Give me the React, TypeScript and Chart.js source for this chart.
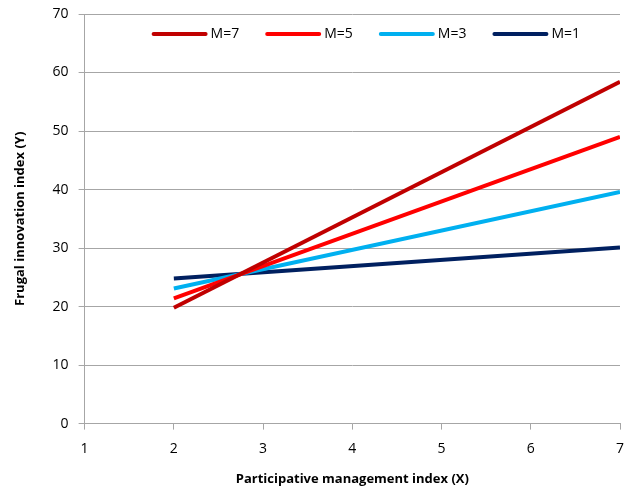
import React, { useEffect, useRef } from "react";
import { Chart, registerables } from "chart.js";

Chart.register(...registerables);

const xValues = [2, 7];
const seriesLabels = ["M=7", "M=5", "M=3", "M=1"];
const seriesColors = ["#C00000", "#FF0000", "#00B0F0", "#002060"];
const seriesValues = [
  [19.8, 58.4],
  [21.4, 49.0],
  [23.1, 39.6],
  [24.8, 30.1],
];
const xTitle = "Participative management index (X)";
const yTitle = "Frugal innovation index (Y)";

const font = "'Open Sans', 'Noto Sans', sans-serif";

const insideLegend = {
  id: "insideLegend",
  afterDraw(chart: any) {
    const { ctx, chartArea } = chart;
    ctx.save();
    ctx.font = `14px ${font}`;
    ctx.textBaseline = "middle";
    ctx.lineCap = "round";
    ctx.lineWidth = 4;
    let x = chartArea.left + 69;
    const y = chartArea.top + 20;
    chart.data.datasets.forEach((ds: any) => {
      ctx.strokeStyle = ds.borderColor;
      ctx.beginPath();
      ctx.moveTo(x, y);
      ctx.lineTo(x + 52, y);
      ctx.stroke();
      x += 57;
      ctx.fillStyle = "#000";
      ctx.fillText(ds.label, x, y);
      x += ctx.measureText(ds.label).width + 28;
    });
    ctx.restore();
  },
};

export default function App() {
  const ref = useRef<HTMLCanvasElement>(null);
  useEffect(() => {
    document.body.style.margin = "0";
    const ctx = ref.current!;
    const chart = new Chart(ctx, {
      type: "line",
      data: {
        datasets: seriesLabels.map((label, i) => ({
          label,
          data: xValues.map((x, j) => ({ x, y: seriesValues[i][j] })),
          borderColor: seriesColors[i],
          backgroundColor: seriesColors[i],
          borderWidth: 4,
          pointRadius: 0,
          tension: 0,
        })),
      },
      options: {
        animation: false,
        responsive: false,
        layout: { padding: { top: 3, right: 5, left: 8, bottom: 0 } },
        plugins: {
          tooltip: { enabled: false },
          legend: { display: false },
        },
        scales: {
          x: {
            type: "linear",
            min: 1,
            max: 7,
            afterFit: (s: any) => {
              s.paddingRight = 10;
              s.paddingLeft = 0;
            },
            ticks: { stepSize: 1, color: "#000", font: { family: font, size: 14 }, padding: 11 },
            grid: { drawOnChartArea: false, drawTicks: true, tickLength: 6, color: "#A6A6A6" },
            border: { color: "#A6A6A6", width: 1 },
            title: { display: true, text: xTitle, color: "#000", font: { family: font, size: 13, weight: "bold" }, padding: { top: 3 } },
          },
          y: {
            min: 0,
            max: 70,
            afterFit: (s: any) => {
              s.paddingTop = 14;
              s.paddingBottom = 0;
            },
            ticks: { stepSize: 10, color: "#000", font: { family: font, size: 14 }, padding: 10 },
            grid: { color: "#A6A6A6", tickLength: 6, lineWidth: 1 },
            border: { color: "#A6A6A6", width: 1 },
            title: { display: true, text: yTitle, color: "#000", font: { family: font, size: 13, weight: "bold" }, padding: { bottom: 15 } },
          },
        },
      },
      plugins: [insideLegend],
    });
    return () => chart.destroy();
  }, []);
  return <canvas ref={ref} width={630} height={491} />;
}
